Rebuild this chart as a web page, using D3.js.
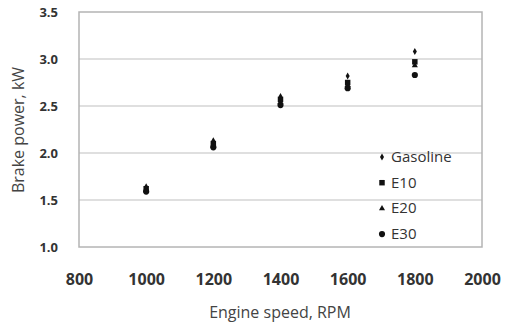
<!DOCTYPE html>
<html>
<head>
<meta charset="utf-8">
<script src="https://cdn.jsdelivr.net/npm/d3@7"></script>
<style>
  body { margin: 0; background: #fff; }
  text { font-family: "Open Sans", sans-serif; }
</style>
</head>
<body>
<div id="chart"></div>
<script>
// engine speed (RPM) and brake power (kW) per fuel
var speeds = [1000, 1200, 1400, 1600, 1800];
var gasoline = [1.64, 2.13, 2.60, 2.82, 3.08];
var e10 = [1.62, 2.10, 2.57, 2.75, 2.97];
var e20 = [1.60, 2.08, 2.54, 2.72, 2.93];
var e30 = [1.59, 2.06, 2.51, 2.69, 2.83];
var fuels = ["Gasoline", "E10", "E20", "E30"];
var xTicks = [800, 1000, 1200, 1400, 1600, 1800, 2000];
var yTicks = [1.0, 1.5, 2.0, 2.5, 3.0, 3.5];

var width = 507, height = 326;
var svg = d3.select("#chart").append("svg")
  .attr("width", width)
  .attr("height", height);

var x = d3.scaleLinear().domain([800, 2000]).range([79, 482]);
var y = d3.scaleLinear().domain([1.0, 3.5]).range([247, 12]);

// gridlines
svg.append("g")
  .selectAll("line")
  .data(yTicks.slice(1, -1))
  .enter().append("line")
    .attr("x1", x(800)).attr("x2", x(2000))
    .attr("y1", function(d) { return y(d); })
    .attr("y2", function(d) { return y(d); })
    .attr("stroke", "#d4d4d4")
    .attr("stroke-width", 1.5);

// plot frame
svg.append("rect")
  .attr("x", x(800)).attr("y", y(3.5))
  .attr("width", x(2000) - x(800))
  .attr("height", y(1.0) - y(3.5))
  .attr("fill", "none")
  .attr("stroke", "#b4b4b4")
  .attr("stroke-width", 1.5);

// axes
var xAxis = svg.append("g")
  .attr("transform", "translate(0," + y(1.0) + ")")
  .call(d3.axisBottom(x).tickValues(xTicks).tickSize(0).tickPadding(27).tickFormat(d3.format("d")));
xAxis.select(".domain").remove();
xAxis.selectAll("text")
  .attr("font-size", 16).attr("font-weight", "bold").attr("fill", "#333")
  .style("font-family", "'Open Sans', sans-serif");

var yAxis = svg.append("g")
  .attr("transform", "translate(" + x(800) + ",0)")
  .call(d3.axisLeft(y).tickValues(yTicks).tickSize(0).tickPadding(21).tickFormat(d3.format(".1f")));
yAxis.select(".domain").remove();
yAxis.selectAll("text")
  .attr("font-size", 13).attr("font-weight", "bold").attr("fill", "#333")
  .style("font-family", "'Open Sans', sans-serif");

// axis titles
svg.append("text")
  .attr("x", 280).attr("y", 318)
  .attr("text-anchor", "middle")
  .attr("font-size", 16).attr("fill", "#444")
  .text("Engine speed, RPM");

svg.append("text")
  .attr("transform", "translate(24,130) rotate(-90)")
  .attr("text-anchor", "middle")
  .attr("font-size", 16).attr("fill", "#444")
  .text("Brake power, kW");

// markers
var symbols = {
  "Gasoline": d3.symbol().type(d3.symbolDiamond).size(14),
  "E10": d3.symbol().type(d3.symbolSquare).size(30),
  "E20": d3.symbol().type(d3.symbolTriangle).size(16),
  "E30": d3.symbol().type(d3.symbolCircle).size(30)
};
var seriesData = { "Gasoline": gasoline, "E10": e10, "E20": e20, "E30": e30 };

fuels.slice().reverse().forEach(function(f) {
  svg.append("g")
    .selectAll("path")
    .data(speeds.map(function(s, i) { return [s, seriesData[f][i]]; }))
    .enter().append("path")
      .attr("d", symbols[f])
      .attr("transform", function(d) { return "translate(" + x(d[0]) + "," + y(d[1]) + ")"; })
      .attr("fill", "#111");
});

// legend
var legend = svg.append("g")
  .selectAll("g")
  .data(fuels)
  .enter().append("g")
    .attr("transform", function(d, i) { return "translate(382," + (157 + i * 25.7) + ")"; });

legend.append("path")
  .attr("d", function(d) { return symbols[d](); })
  .attr("fill", "#111");

legend.append("text")
  .attr("x", 9).attr("y", 5)
  .attr("font-size", 15).attr("fill", "#333")
  .text(function(d) { return d; });
</script>
</body>
</html>
